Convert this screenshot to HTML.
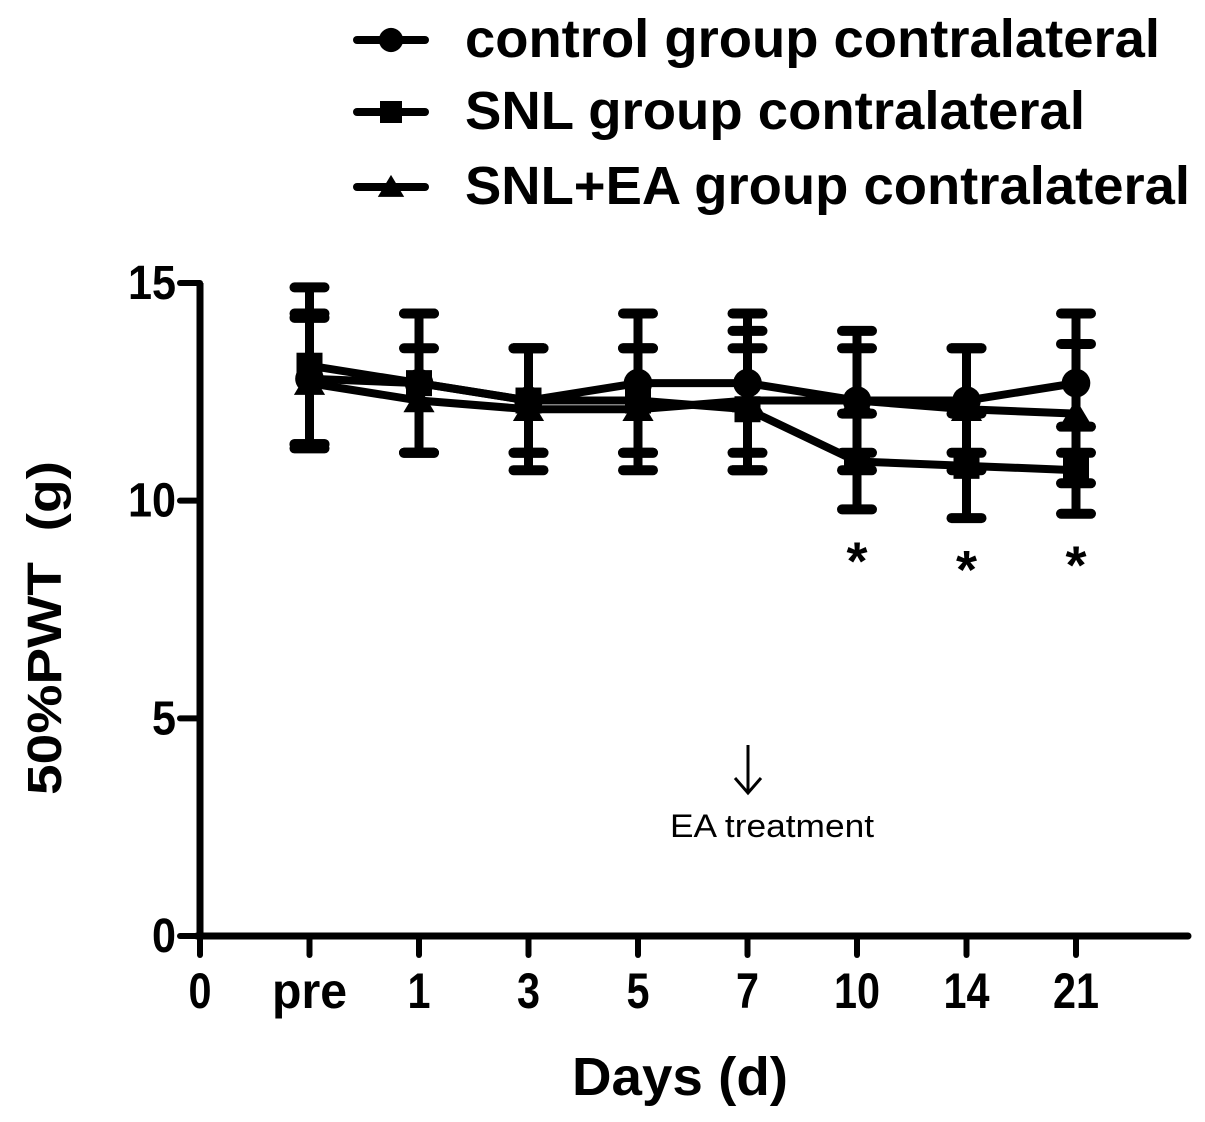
<!DOCTYPE html>
<html><head><meta charset="utf-8"><style>
html,body{margin:0;padding:0;background:#fff;}
svg{display:block;font-family:"Liberation Sans",sans-serif;}
</style></head><body>
<svg id="chart" width="1205" height="1122" viewBox="0 0 1205 1122" xmlns="http://www.w3.org/2000/svg"></svg>
<script>
const categories = ["0","pre","1","3","5","7","10","14","21"];
const yTicks = [0,5,10,15];
const controlMean = [null,12.8,12.7,12.3,12.7,12.7,12.3,12.3,12.7];
const controlErr  = [null,1.5,1.6,1.2,1.6,1.6,1.2,1.2,1.6];
const snlMean = [null,13.1,12.7,12.3,12.3,12.1,10.9,10.8,10.7];
const snlErr  = [null,1.8,1.6,1.2,1.2,1.4,1.1,1.2,1.0];
const eaMean = [null,12.7,12.3,12.1,12.1,12.3,12.3,12.1,12.0];
const eaErr  = [null,1.5,1.2,1.4,1.4,1.6,1.6,1.4,1.6];
const starIdx = [6,7,8];

const NS="http://www.w3.org/2000/svg";
const svg=document.getElementById('chart');
const x0=200, dx=109.5, yBase=936, yPer=(936-283)/15;
function xs(i){return x0+i*dx;}
function ys(v){return yBase-v*yPer;}
function mk(tag,attrs,parent){const e=document.createElementNS(NS,tag);for(const k in attrs)e.setAttribute(k,attrs[k]);(parent||svg).appendChild(e);return e;}

const axes=mk('g',{});


mk('line',{x1:x0,y1:ys(15),x2:x0,y2:yBase,stroke:'#000','stroke-width':7},axes);
mk('line',{x1:x0-3,y1:yBase,x2:1188,y2:yBase,stroke:'#000','stroke-width':7,'stroke-linecap':'round'},axes);
yTicks.forEach(v=>{
  mk('line',{x1:180,y1:ys(v),x2:x0,y2:ys(v),stroke:'#000','stroke-width':6,'stroke-linecap':'round'},axes);
  const t=mk('text',{x:176,y:ys(v)+16,'text-anchor':'end','font-size':48,'font-weight':'bold'},axes);
  
  
  t.textContent=v;
  t.setAttribute('textLength',String(v).length*24);
  t.setAttribute('lengthAdjust','spacingAndGlyphs');
});
categories.forEach((c,i)=>{
  mk('line',{x1:xs(i),y1:yBase,x2:xs(i),y2:955,stroke:'#000','stroke-width':6,'stroke-linecap':'round'},axes);
  const t=mk('text',{x:xs(i),y:1008,'text-anchor':'middle','font-size':50,'font-weight':'bold'},axes);
  
  
  t.textContent=c;
  t.setAttribute('textLength',c.length*(c==='pre'?25:23));
  t.setAttribute('lengthAdjust','spacingAndGlyphs');
});
const xt=mk('text',{x:680,y:1095,'text-anchor':'middle','font-size':54,'font-weight':'bold',textLength:216,lengthAdjust:'spacingAndGlyphs'});


xt.textContent='Days (d)';
const yt=mk('text',{x:0,y:0,'text-anchor':'middle','font-size':48,'font-weight':'bold',transform:'translate(61,628) rotate(-90)',textLength:334,lengthAdjust:'spacingAndGlyphs'});


yt.textContent='50%PWT\u00a0 (g)';

function marker(type,cx,cy,g,s){
  if(type==='circle') return mk('circle',{cx:cx,cy:cy,r:s*0.55,fill:'#000'},g);
  if(type==='square') return mk('rect',{x:cx-s/2,y:cy-s/2,width:s,height:s,fill:'#000'},g);
  return mk('polygon',{points:`${cx},${cy-s*0.55} ${cx-s*0.6},${cy+s*0.45} ${cx+s*0.6},${cy+s*0.45}`,fill:'#000'},g);
}
function series(name,mean,err,type){
  const g=mk('g',{});
  
  
  let pts=[];
  mean.forEach((v,i)=>{ if(v==null) return;
    const x=xs(i);
    mk('line',{x1:x,y1:ys(v+err[i]),x2:x,y2:ys(v-err[i]),stroke:'#000','stroke-width':9},g);
    [v+err[i],v-err[i]].forEach(e=>mk('line',{x1:x-15,y1:ys(e),x2:x+15,y2:ys(e),stroke:'#000','stroke-width':10,'stroke-linecap':'round'},g));
    pts.push(x+','+ys(v));
  });
  mk('polyline',{points:pts.join(' '),fill:'none',stroke:'#000','stroke-width':8},g);
  mean.forEach((v,i)=>{ if(v==null) return;
    const m=marker(type,xs(i),ys(v),g,26);
    
    
  });
}
series('control-series',controlMean,controlErr,'circle');
series('snl-series',snlMean,snlErr,'square');
series('snl-ea-series',eaMean,eaErr,'triangle');

starIdx.forEach(i=>{
  const t=mk('text',{x:xs(i),y:ys(snlMean[i]-snlErr[i])+70,'text-anchor':'middle','font-size':54,'font-weight':'bold'});
  
  
  t.textContent='*';
});

const ann=mk('g',{});


mk('line',{x1:748,y1:745,x2:748,y2:793,stroke:'#000','stroke-width':3},ann);
mk('polyline',{points:'735,778 748,793 761,778',fill:'none',stroke:'#000','stroke-width':3},ann);
const at=mk('text',{x:772,y:837,'text-anchor':'middle','font-size':32,textLength:204,lengthAdjust:'spacingAndGlyphs'},ann);
at.textContent='EA treatment';

const legendLabels=['control group contralateral','SNL group contralateral','SNL+EA group contralateral'];
const legendTypes=['circle','square','triangle'];
const legendY=[40,112,187];
const legendW=[695,620,725];
legendLabels.forEach((l,k)=>{
  const g=mk('g',{});
  
  
  mk('line',{x1:357,y1:legendY[k],x2:425,y2:legendY[k],stroke:'#000','stroke-width':8,'stroke-linecap':'round'},g);
  marker(legendTypes[k],391,legendY[k],g,22);
  const t=mk('text',{x:465,y:legendY[k]+17,'font-size':54,'font-weight':'bold',textLength:legendW[k],lengthAdjust:'spacingAndGlyphs'},g);
  t.textContent=l;
});
</script>
</body></html>
